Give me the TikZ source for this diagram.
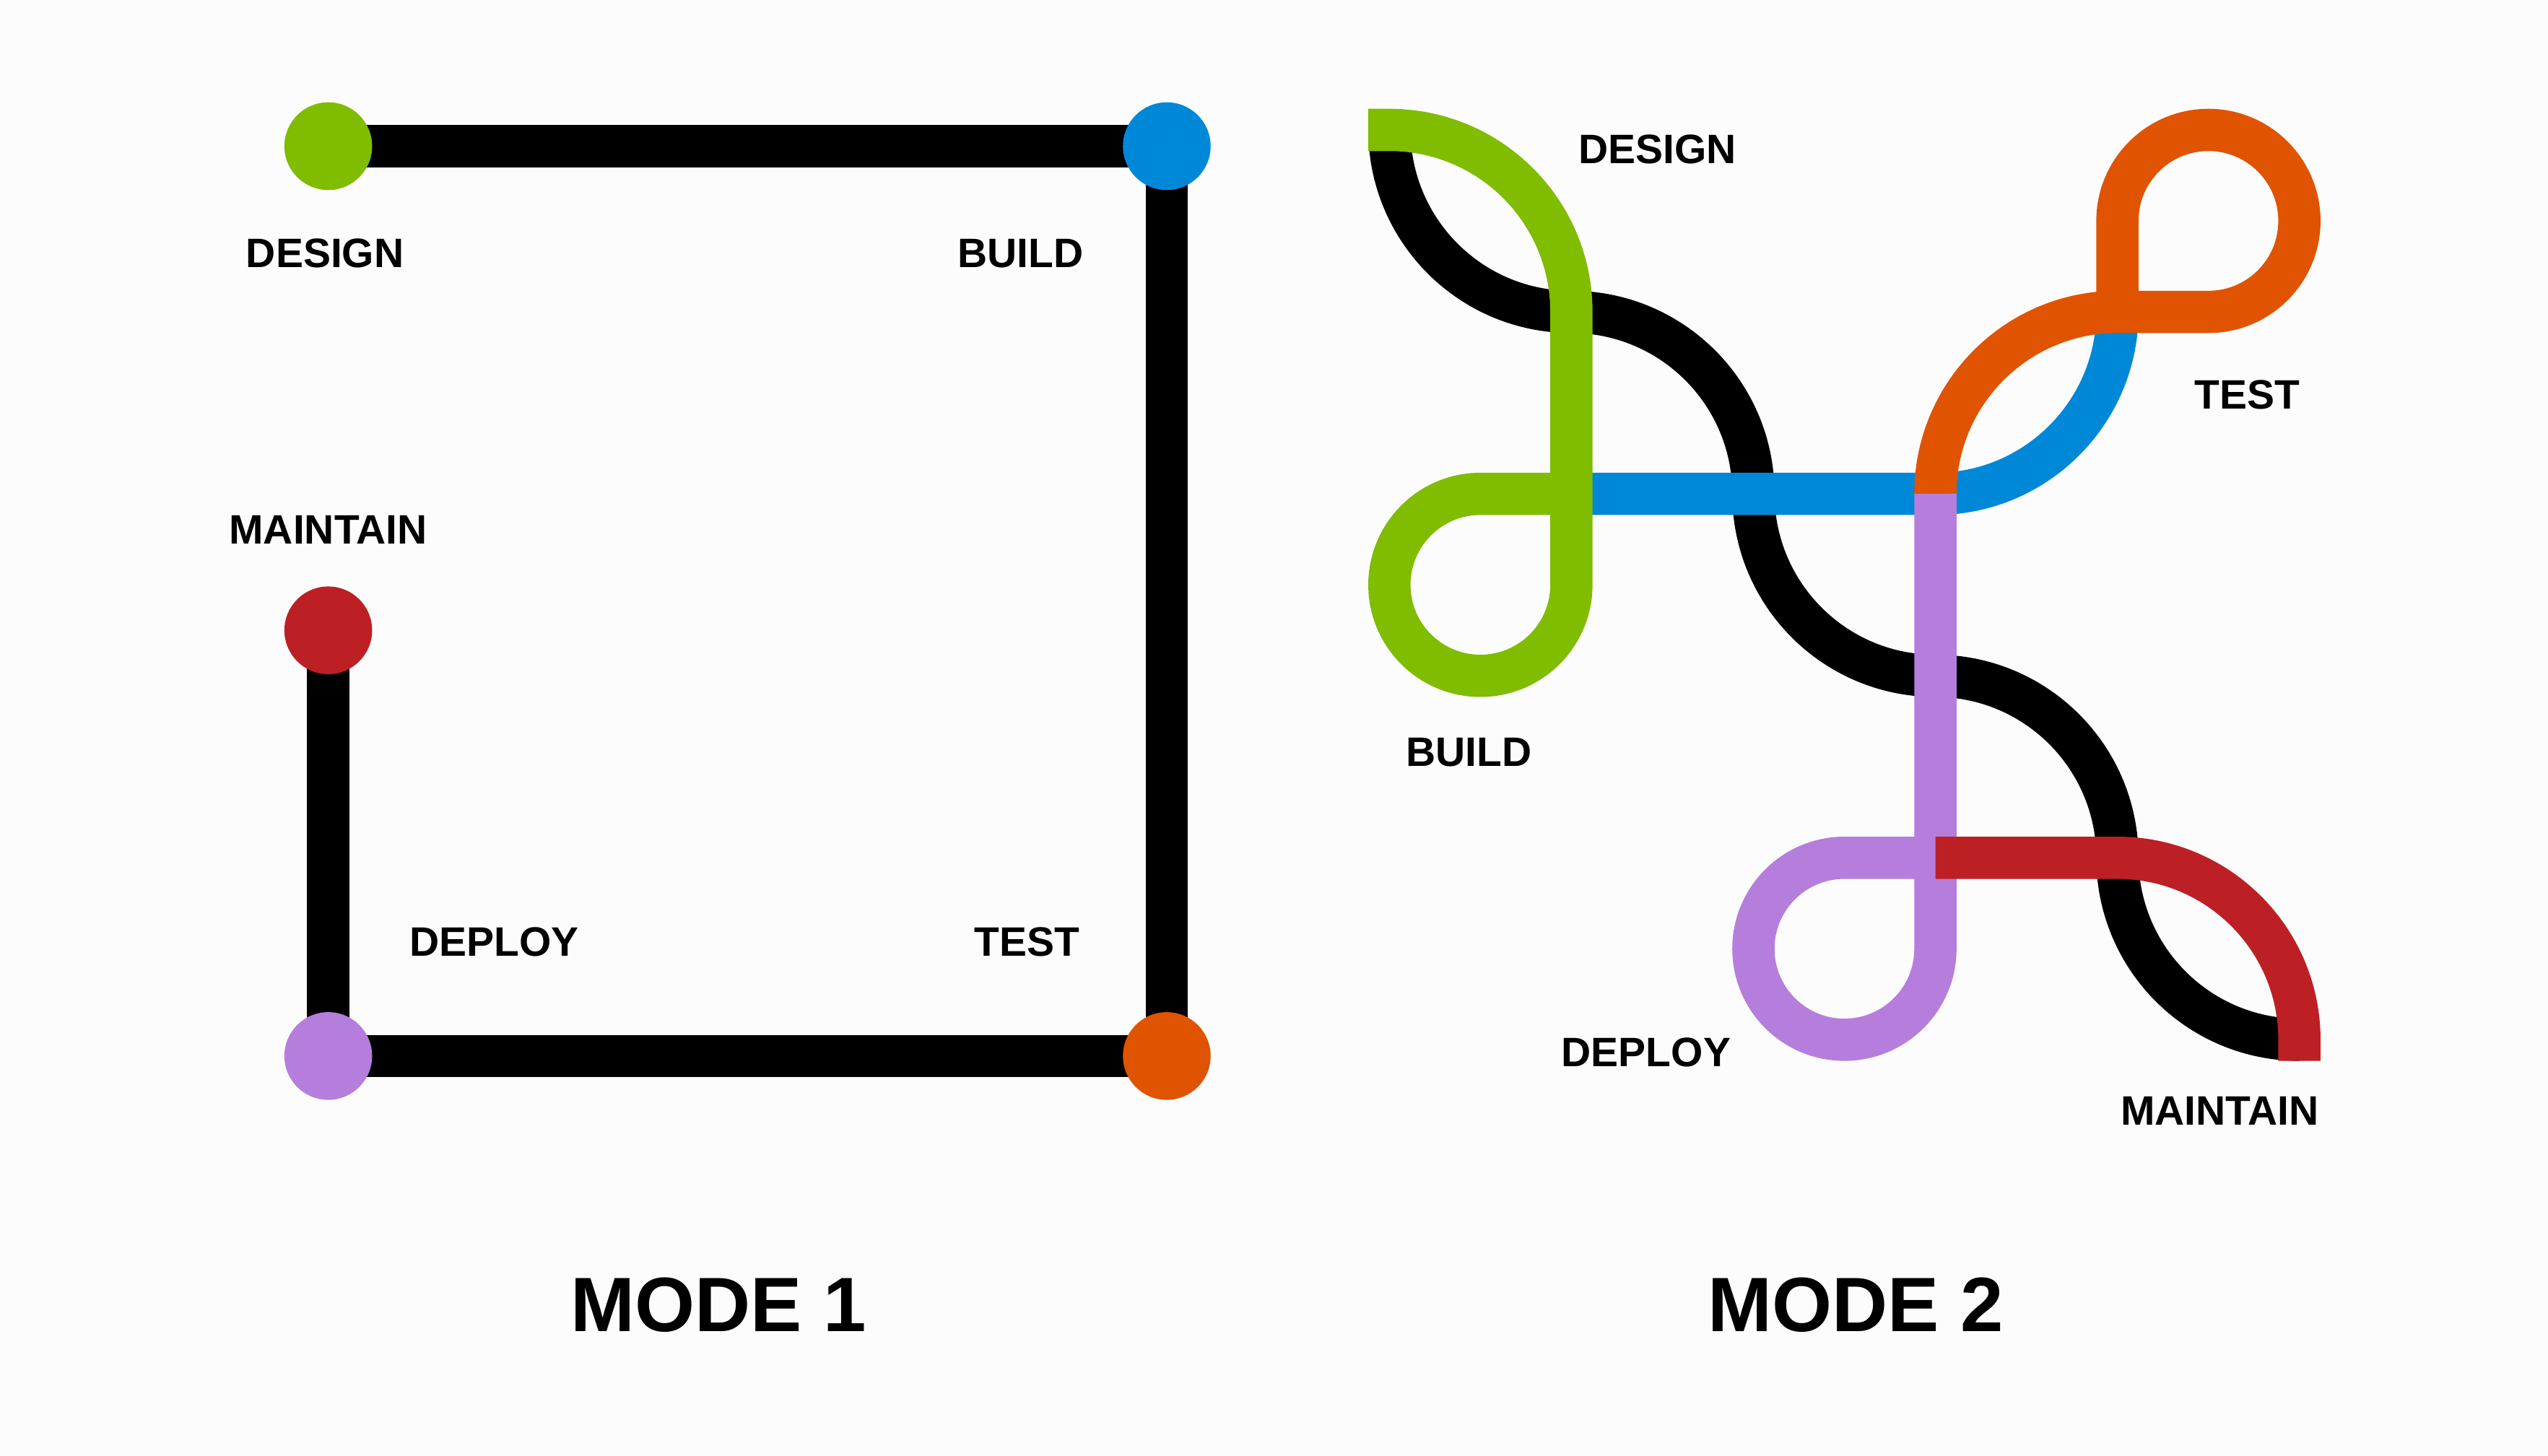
\documentclass[tikz,border=0pt]{standalone}
\usepackage{fontspec}
\setmainfont{Liberation Sans}
\definecolor{cGreen}{HTML}{80BC00}
\definecolor{cBlue}{HTML}{0088D8}
\definecolor{cOrange}{HTML}{E05300}
\definecolor{cRed}{HTML}{BC2025}
\definecolor{cPurple}{HTML}{B57EDC}
\definecolor{cBack}{HTML}{FCFCFC}
\tikzset{
  track/.style={line width=0.26cm},
  dot/.style={circle,inner sep=0pt,minimum size=0.54cm},
  lbl/.style={font=\bfseries\fontsize{7.2}{8}\selectfont},
  title/.style={font=\bfseries\fontsize{13.5}{15}\selectfont}
}
\begin{document}
\begin{tikzpicture}
\fill[cBack](0,0)rectangle(15.68,8.96);
\useasboundingbox(0,0)rectangle(15.68,8.96);
% mode 1
\coordinate(kD)at(2.02,8.06);
\coordinate(kB)at(7.18,8.06);
\coordinate(kT)at(7.18,2.46);
\coordinate(kP)at(2.02,2.46);
\coordinate(kM)at(2.02,5.08);
\draw[track](kD)--(kB)--(kT)--(kP)--(kM);
\node[dot,fill=cGreen](design)at(kD){};
\node[dot,fill=cBlue](build)at(kB){};
\node[dot,fill=cOrange](test)at(kT){};
\node[dot,fill=cPurple](deploy)at(kP){};
\node[dot,fill=cRed](maintain)at(kM){};
\node[lbl](lD)at(2.00,7.40){DESIGN};
\node[lbl](lB)at(6.28,7.40){BUILD};
\node[lbl](lM)at(2.02,5.70){MAINTAIN};
\node[lbl](lP)at(3.04,3.16){DEPLOY};
\node[lbl](lT)at(6.32,3.16){TEST};
\node[title](m1)at(4.42,0.93){MODE 1};
% mode 2
\draw[track](8.55,8.16)arc(180:270:1.12)arc(90:0:1.12)arc(180:270:1.12)arc(90:0:1.12)arc(180:270:1.12);
\draw[track,cBlue](9.67,5.92)--(11.91,5.92)arc(-90:0:1.12);
\draw[track,cGreen](8.42,8.16)--(8.55,8.16)arc(90:0:1.12)--(9.67,5.36)arc(0:-270:0.56)--(9.67,5.92);
\draw[track,cOrange](13.03,7.04)--(13.03,7.60)arc(180:-90:0.56)--(13.03,7.04)arc(90:180:1.12);
\draw[track,cPurple](11.91,5.92)--(11.91,3.12)arc(0:-270:0.56)--(11.91,3.68);
\draw[track,cRed](11.91,3.68)--(13.03,3.68)arc(90:0:1.12)--(14.15,2.43);
\node[lbl](nD)at(10.20,8.04){DESIGN};
\node[lbl](nT)at(13.83,6.53){TEST};
\node[lbl](nB)at(9.04,4.33){BUILD};
\node[lbl](nP)at(10.13,2.48){DEPLOY};
\node[lbl](nM)at(13.66,2.12){MAINTAIN};
\node[title](m2)at(11.42,0.93){MODE 2};
\end{tikzpicture}
\end{document}
